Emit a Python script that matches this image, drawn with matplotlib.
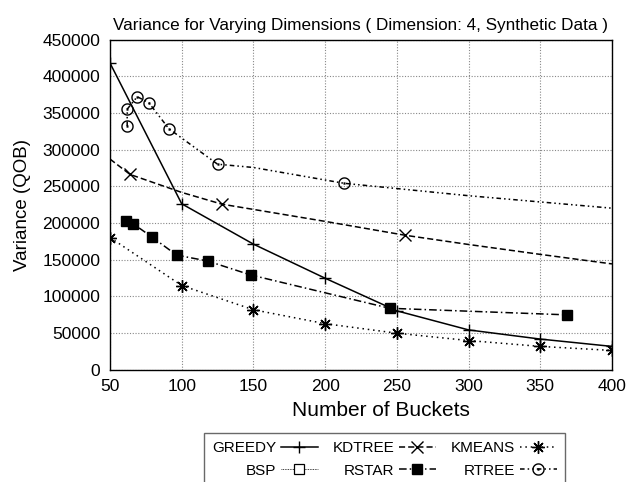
import matplotlib
matplotlib.use("Agg")
import matplotlib.pyplot as plt
from matplotlib.lines import Line2D

plt.rcParams['font.family'] = ['Liberation Sans', 'DejaVu Sans']
plt.rcParams['mathtext.fontset'] = 'dejavusans'

# data
greedy_x = [50, 100, 150, 200, 250, 300, 350, 400]
greedy_y = [418000, 226000, 171000, 124500, 80000, 54000, 41500, 31500]

kdtree_x = [50, 64, 100, 128, 200, 256, 300, 350, 400]
kdtree_y = [287000, 266000, 241500, 225500, 202000, 183000, 170500, 157000, 144000]
kdtree_marks = [1, 3, 5]

kmeans_x = [50, 100, 150, 200, 250, 300, 350, 400]
kmeans_y = [180000, 114500, 81500, 62500, 49500, 39500, 31500, 26000]

rstar_x = [61, 66, 79, 96.5, 118, 148, 245, 369]
rstar_y = [203000, 199000, 181000, 156000, 148000, 129000, 83500, 74500]

rtree_x = [62, 62, 69, 77, 91, 125, 150, 213, 300, 400]
rtree_y = [332000, 355000, 372000, 364000, 328500, 280000, 275500, 254000, 237000, 220000]
rtree_marks = [0, 1, 2, 3, 4, 5, 7]

xticks = [50, 100, 150, 200, 250, 300, 350, 400]
yticks = list(range(0, 450001, 50000))

fig = plt.figure(figsize=(6.27, 4.82), dpi=100)
ax = fig.add_axes([0.1754, 0.2334, 0.8006, 0.6846])

lw = 1.1
ax.plot(greedy_x, greedy_y, color='black', lw=lw, ls='-',
        marker='+', ms=9, mew=1.0, label='GREEDY')
ax.plot(kdtree_x, kdtree_y, color='black', lw=lw, ls=(0, (4, 2)),
        marker='x', ms=8, mew=1.0, markevery=kdtree_marks, label='KDTREE')
ax.plot(kmeans_x, kmeans_y, color='black', lw=lw, ls=(0, (1, 2.5)),
        marker=(8, 2, 0), ms=9, mew=1.0, label='KMEANS')
ax.plot(rstar_x, rstar_y, color='black', lw=lw, ls=(0, (5, 2, 1, 2)),
        marker='s', ms=7.5, label='RSTAR')
ax.plot(rtree_x, rtree_y, color='black', lw=lw, ls=(0, (3, 2, 1, 2, 1, 2)),
        marker='$\\odot$', ms=9, mew=0, markevery=rtree_marks, label='RTREE')

ax.set_xlim(50, 400)
ax.set_ylim(0, 450000)
ax.set_xticks(xticks)
ax.set_yticks(yticks)
ax.tick_params(length=0, labelsize=12.5, pad=7)
ax.grid(True, color='#888888', ls=(0, (1, 1.5)), lw=0.8)
for s in ax.spines.values():
    s.set_linewidth(1.0)

ax.set_xlabel('Number of Buckets', fontsize=15)
ax.xaxis.set_label_coords(0.54, -0.095)
ax.set_ylabel('Variance (QOB)', fontsize=13.5, labelpad=8)
ax.set_title('Variance for Varying Dimensions ( Dimension: 4, Synthetic Data )',
             fontsize=12.3, pad=7)

# legend (BSP appears only in legend)
h = {l.get_label(): l for l in ax.get_lines()}
bsp = Line2D([], [], color='black', lw=0.6, ls=(0, (1, 1)),
             marker='s', mfc='white', ms=7, mew=0.9, label='BSP')
order = [h['GREEDY'], bsp, h['KDTREE'], h['RSTAR'], h['KMEANS'], h['RTREE']]
leg = fig.legend(handles=order, loc='upper center', bbox_to_anchor=(0.613, 0.102),
                 ncol=3, markerfirst=False, fontsize=11, frameon=True,
                 fancybox=False, edgecolor='#444444', handlelength=2.4,
                 columnspacing=1.0, handletextpad=0.3, borderpad=0.55,
                 labelspacing=0.55, borderaxespad=0)
leg.get_frame().set_linewidth(1.0)

fig.savefig('out.png', dpi=100)
